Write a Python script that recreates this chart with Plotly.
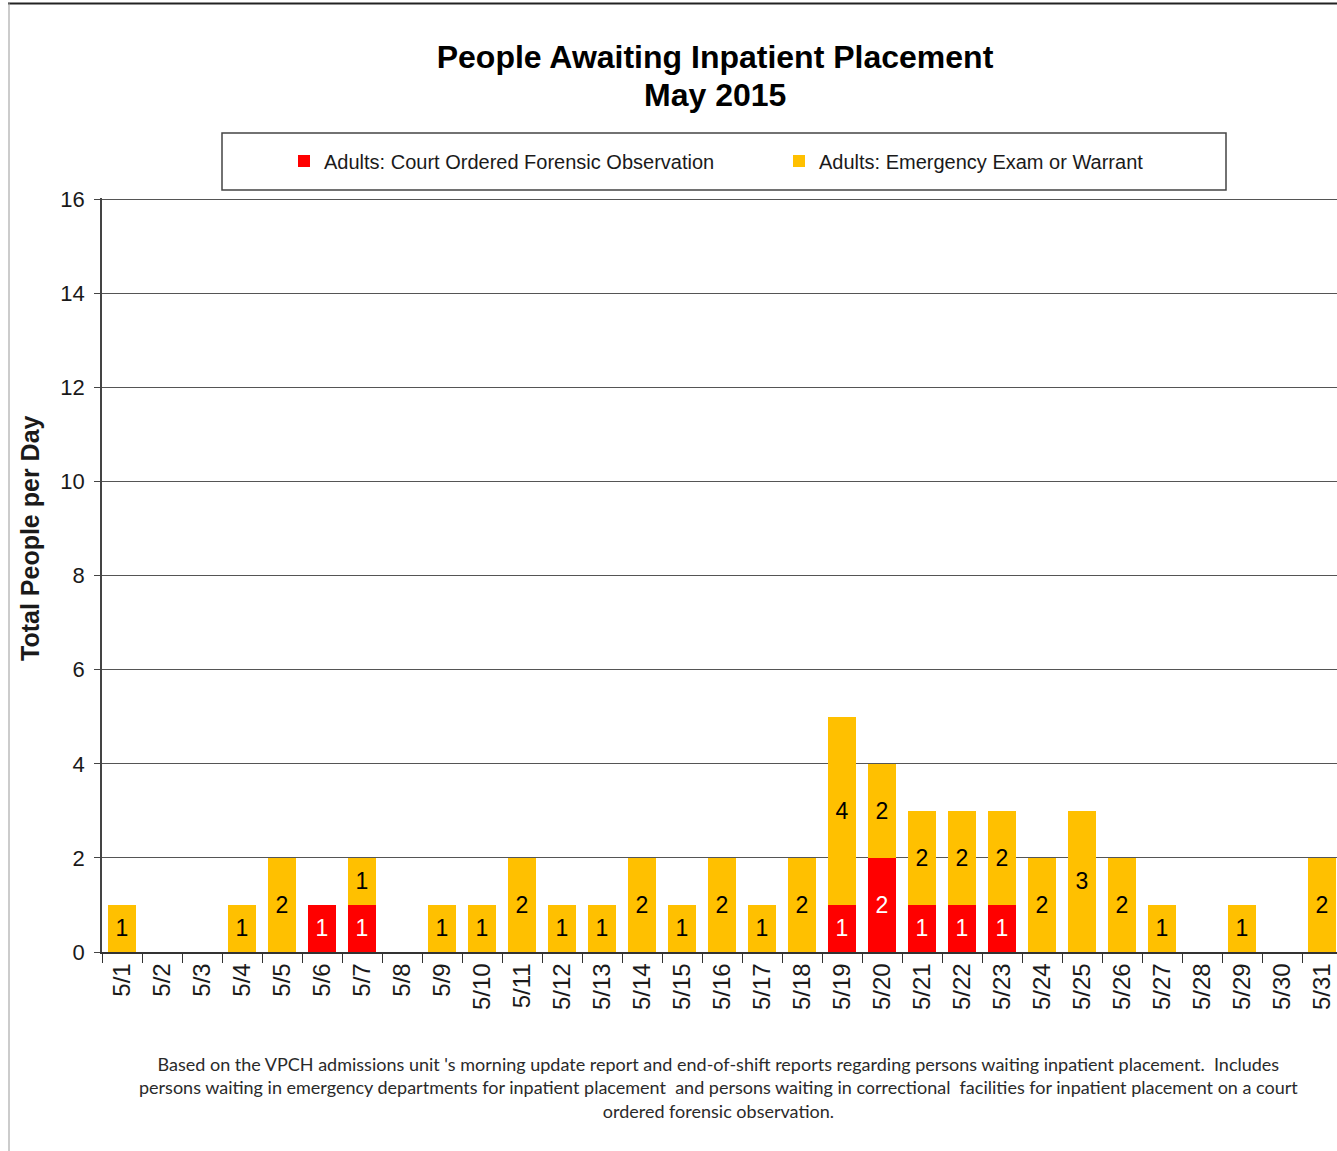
import plotly.graph_objects as go

dates = ["5/%d" % d for d in range(1, 32)]
court_ordered = [0, 0, 0, 0, 0, 1, 1, 0, 0, 0, 0, 0, 0, 0, 0, 0, 0, 0, 1, 2, 1, 1, 1, 0, 0, 0, 0, 0, 0, 0, 0]
emergency = [1, 0, 0, 1, 2, 0, 1, 0, 1, 1, 2, 1, 1, 2, 1, 2, 1, 2, 4, 2, 2, 2, 2, 2, 3, 2, 1, 0, 1, 0, 2]
y_ticks = [0, 2, 4, 6, 8, 10, 12, 14, 16]

title_lines = ["People Awaiting Inpatient Placement", "May 2015"]
y_title = "Total People per Day"
footnote = ("Based on the VPCH admissions unit 's morning update report and end-of-shift reports regarding persons waiting inpatient placement.  Includes<br>"
            "persons waiting in emergency departments for inpatient placement  and persons waiting in correctional  facilities for inpatient placement on a court<br>"
            "ordered forensic observation.")

W, H = 1337, 1151
L, R, T, B = 102, 0, 198, 199
pw = W - L - R
ph = H - T - B

def px(xp):
    return (xp - L) / pw

def py(yp):
    return (H - B - yp) / ph

FONT = "Arial, Liberation Sans, sans-serif"
RED = "#FF0000"
YEL = "#FFC000"

fig = go.Figure()
fig.add_trace(go.Bar(
    x=dates, y=court_ordered, name="Adults: Court Ordered Forensic Observation",
    marker=dict(color=RED, line=dict(width=0)),
    text=[str(v) if v else "" for v in court_ordered],
    textposition="inside", insidetextanchor="middle", textangle=0,
    textfont=dict(color="white", size=23, family=FONT),
    width=0.71, hoverinfo="x+y+name",
))
fig.add_trace(go.Bar(
    x=dates, y=emergency, name="Adults: Emergency Exam or Warrant",
    marker=dict(color=YEL, line=dict(width=0)),
    text=[str(v) if v else "" for v in emergency],
    textposition="inside", insidetextanchor="middle", textangle=0,
    textfont=dict(color="black", size=23, family=FONT),
    width=0.71, hoverinfo="x+y+name",
))

shapes = [
    # legend box
    dict(type="rect", xref="paper", yref="paper", x0=px(222), x1=px(1226), y0=py(190), y1=py(133),
         line=dict(color="#444444", width=1.5), fillcolor="rgba(0,0,0,0)"),
    # page borders
    dict(type="line", xref="paper", yref="paper", x0=px(8), x1=px(1337), y0=py(3.5), y1=py(3.5),
         line=dict(color="#222222", width=2)),
    dict(type="line", xref="paper", yref="paper", x0=px(9), x1=px(9), y0=py(3), y1=py(1151),
         line=dict(color="#999999", width=1)),
]

annotations = [
    dict(text="<b>" + title_lines[1] + "</b>", xref="paper", yref="paper", x=px(715), y=py(95),
         showarrow=False, font=dict(size=32, family=FONT, color="black"),
         xanchor="center", yanchor="middle"),
    dict(text="<b>" + y_title + "</b>", xref="paper", yref="paper", x=px(30), y=py(538),
         textangle=-90, showarrow=False, font=dict(size=25, family=FONT, color="#1a1a1a"),
         xanchor="center", yanchor="middle"),
    dict(text=footnote, xref="paper", yref="paper", x=px(718), y=py(1087),
         showarrow=False, font=dict(size=18, family="Lato, sans-serif", color="#2a2a2a"),
         xanchor="center", yanchor="middle", align="center"),
]

fig.update_layout(
    width=W, height=H,
    margin=dict(l=L, r=R, t=T, b=B, pad=0),
    paper_bgcolor="white", plot_bgcolor="white",
    barmode="stack",
    title=dict(text="<b>" + title_lines[0] + "</b>",
               x=px(715), xref="paper", xanchor="center",
               y=1 - 57 / H, yref="container", yanchor="middle",
               font=dict(size=32, family=FONT, color="black")),
    legend=dict(orientation="h", x=px(284), y=py(161), xanchor="left", yanchor="middle",
                xref="paper", yref="paper", entrywidth=450, entrywidthmode="pixels",
                font=dict(size=20, family=FONT, color="#1a1a1a"),
                bgcolor="rgba(0,0,0,0)", borderwidth=0, traceorder="normal"),
    shapes=shapes,
    annotations=annotations,
    xaxis=dict(type="category", range=[-0.5, 30.375], tickangle=-90,
               tickfont=dict(size=24, family=FONT, color="#1a1a1a"),
               showline=True, linecolor="#333333", linewidth=1.5,
               ticks="outside", ticklen=9, tickcolor="#333333", tickson="boundaries",
               showgrid=False, fixedrange=True),
    yaxis=dict(range=[0, 16.03], tickvals=y_ticks,
               tickfont=dict(size=22, family=FONT, color="#1a1a1a"),
               showline=True, linecolor="#444444", linewidth=1.5,
               ticks="outside", ticklen=6, tickcolor="#444444", ticklabelstandoff=5,
               showgrid=True, gridcolor="#555555", gridwidth=1,
               zeroline=False, fixedrange=True),
    bargap=0.29,
    showlegend=True,
)

fig.write_html("out.html", config={"displayModeBar": False},
               post_script="document.body.style.margin='0px';document.body.style.overflow='hidden';")
